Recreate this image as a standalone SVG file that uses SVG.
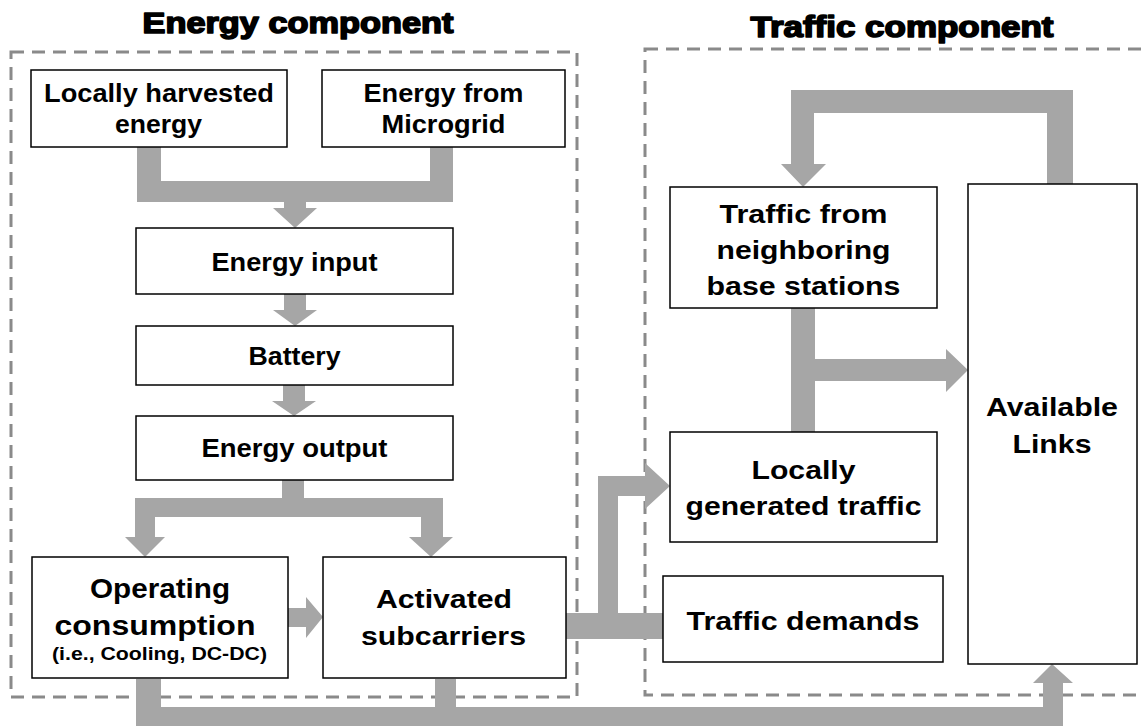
<svg xmlns="http://www.w3.org/2000/svg" width="1142" height="726" viewBox="0 0 1142 726">
<style>
.bg{fill:#ffffff}
.group{fill:none;stroke:#8a8a8a;stroke-width:3;stroke-dasharray:13 8}
.box{fill:#ffffff;stroke:#000000;stroke-width:1.5}
.arrow{fill:#a6a6a6;stroke:none}
text{font-family:"Liberation Sans",Arial,sans-serif;font-weight:bold;fill:#000000;text-anchor:middle}
.t{font-size:26px}
.b{font-size:27px}
.s{font-size:18px}
.title{font-size:29px;stroke:#000000;stroke-width:1.6;stroke-linejoin:round}
</style>
<rect class="bg" x="0" y="0" width="1142" height="726"/>
<g id="groups">
<rect class="group" x="11" y="52" width="566" height="645"/>
<rect class="group" x="645" y="49" width="500" height="646"/>
<text class="title" x="298" y="33" textLength="311" lengthAdjust="spacingAndGlyphs">Energy component</text>
<text class="title" x="902" y="37" textLength="303" lengthAdjust="spacingAndGlyphs">Traffic component</text>
</g>
<g id="connectors">
<polygon class="arrow" points="137,147 161,147 161,181 430,181 430,147 453,147 453,202 306,202 306,208 317,208 295,228 273,208 284,208 284,202 137,202"/>
<polygon class="arrow" points="284,294 306,294 306,310 317,310 295,326 273,310 284,310"/>
<polygon class="arrow" points="283,385 305,385 305,401 316,401 294,416 272,401 283,401"/>
<polygon class="arrow" points="282,480 304,480 304,498 443,498 443,537 453,537 431,557 409,537 421,537 421,517 155,517 155,537 165,537 145,557 125,537 135,537 135,498 282,498"/>
<polygon class="arrow" points="288,608 306,608 306,597 323,617 306,638 306,627 288,627"/>
<polygon class="arrow" points="566,613 598,613 598,476 645,476 645,463 670,486 645,509 645,496 618,496 618,613 663,613 663,639 566,639"/>
<polygon class="arrow" points="136,679 161,679 161,707 435,707 435,679 456,679 456,707 1043,707 1043,683 1033,683 1052,664 1073,683 1063,683 1063,727 136,727"/>
<polygon class="arrow" points="1047,184 1047,113 814,113 814,164 826,164 803,187 781,164 791,164 791,90 1073,90 1073,184"/>
<polygon class="arrow" points="791,308 815,308 815,359 946,359 946,349 968,370 946,392 946,381 815,381 815,432 791,432"/>
</g>
<g id="n-harvested">
<rect class="box" x="31" y="70" width="256" height="77"/>
<text class="t" x="159" y="102" textLength="230" lengthAdjust="spacingAndGlyphs">Locally harvested</text>
<text class="t" x="158.5" y="133" textLength="87" lengthAdjust="spacingAndGlyphs">energy</text>
</g>
<g id="n-microgrid">
<rect class="box" x="322" y="70" width="243" height="77"/>
<text class="t" x="443.5" y="102" textLength="160" lengthAdjust="spacingAndGlyphs">Energy from</text>
<text class="t" x="443.5" y="133" textLength="124" lengthAdjust="spacingAndGlyphs">Microgrid</text>
</g>
<g id="n-input">
<rect class="box" x="136" y="228" width="317" height="66"/>
<text class="t" x="294.5" y="271" textLength="166" lengthAdjust="spacingAndGlyphs">Energy input</text>
</g>
<g id="n-battery">
<rect class="box" x="136" y="326" width="317" height="59"/>
<text class="t" x="294.5" y="365" textLength="92" lengthAdjust="spacingAndGlyphs">Battery</text>
</g>
<g id="n-output">
<rect class="box" x="136" y="416" width="317" height="64"/>
<text class="t" x="294.5" y="457" textLength="186" lengthAdjust="spacingAndGlyphs">Energy output</text>
</g>
<g id="n-operating">
<rect class="box" x="32" y="557" width="256" height="121"/>
<text class="b" x="160" y="598" textLength="140" lengthAdjust="spacingAndGlyphs">Operating</text>
<text class="b" x="155" y="635" textLength="201" lengthAdjust="spacingAndGlyphs">consumption</text>
<text class="s" x="159.5" y="660" textLength="215" lengthAdjust="spacingAndGlyphs">(i.e., Cooling, DC-DC)</text>
</g>
<g id="n-activated">
<rect class="box" x="323" y="557" width="243" height="121"/>
<text class="t" x="444" y="608" textLength="136" lengthAdjust="spacingAndGlyphs">Activated</text>
<text class="t" x="443.5" y="645" textLength="165" lengthAdjust="spacingAndGlyphs">subcarriers</text>
</g>
<g id="n-neighbor">
<rect class="box" x="670" y="187" width="267" height="121"/>
<text class="t" x="803.5" y="223" textLength="168" lengthAdjust="spacingAndGlyphs">Traffic from</text>
<text class="t" x="803.5" y="259" textLength="174" lengthAdjust="spacingAndGlyphs">neighboring</text>
<text class="t" x="803.5" y="295" textLength="194" lengthAdjust="spacingAndGlyphs">base stations</text>
</g>
<g id="n-local">
<rect class="box" x="670" y="432" width="267" height="110"/>
<text class="t" x="803.5" y="479" textLength="104" lengthAdjust="spacingAndGlyphs">Locally</text>
<text class="t" x="803.5" y="515" textLength="236" lengthAdjust="spacingAndGlyphs">generated traffic</text>
</g>
<g id="n-demands">
<rect class="box" x="663" y="576" width="280" height="86"/>
<text class="t" x="803" y="630" textLength="233" lengthAdjust="spacingAndGlyphs">Traffic demands</text>
</g>
<g id="n-links">
<rect class="box" x="968" y="184" width="169" height="480"/>
<text class="t" x="1052" y="416" textLength="132" lengthAdjust="spacingAndGlyphs">Available</text>
<text class="t" x="1052" y="453" textLength="79" lengthAdjust="spacingAndGlyphs">Links</text>
</g>
</svg>
